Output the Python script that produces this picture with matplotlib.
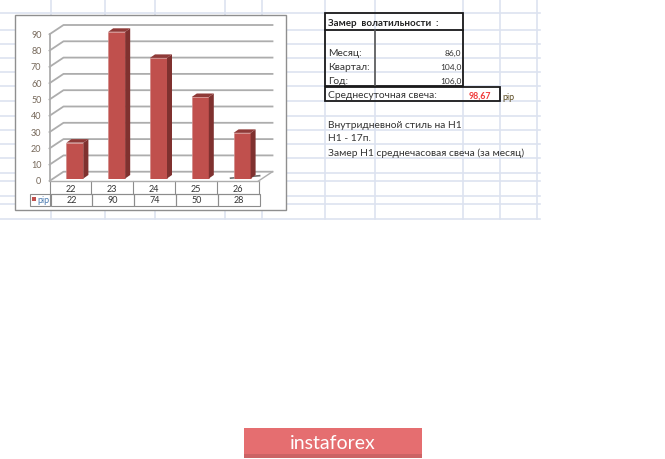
import matplotlib
matplotlib.use('Agg')
import matplotlib.pyplot as plt
from matplotlib.patches import Rectangle, Polygon

W, H = 665, 460
categories = ['22', '23', '24', '25', '26']
values = [22, 90, 74, 50, 28]
yticks = list(range(0, 100, 10))
series_name = 'pip'
sheet_rows = [('Месяц:', '86,0'), ('Квартал:', '104,0'), ('Год:', '106,0')]
summary_label = 'Среднесуточная свеча:'
summary_value = '98,67'
notes = ['Внутридневной стиль на Н1', 'Н1 - 17п.', 'Замер Н1 среднечасовая свеча (за месяц)']
sheet_title = 'Замер  волатильности  :'
grid_x = [51, 105, 155, 225, 262, 325, 375, 463, 500, 537]
grid_y = [14, 31, 45, 59, 73, 87, 102, 117, 131, 145, 159, 174, 182, 197, 205, 220]

plt.rcParams['font.family'] = ['Lato', 'DejaVu Sans']
fig = plt.figure(figsize=(W / 100, H / 100), dpi=100)
bg = fig.add_axes([0, 0, 1, 1])
bg.set_xlim(0, W); bg.set_ylim(H, 0); bg.axis('off')

# spreadsheet grid
grid_c = '#dde3f0'
for x in grid_x:
    bg.plot([x, x], [0, 220], color=grid_c, lw=1.2, zorder=1)
for y in grid_y:
    bg.plot([0, 540], [y, y], color=grid_c, lw=1.2, zorder=1)
bg.add_patch(Rectangle((14.5, 16), 271, 195, fc='white', ec='#8f8f8f', lw=1, zorder=2))

# chart axes: front plane
L, R, BASE, PX = 49.5, 258.5, 179.5, 1.63
ymax = 100
top = BASE - ymax * PX
ax = fig.add_axes([L / W, 1 - BASE / H, (R - L) / W, (BASE - top) / H])
ax.set_xlim(-0.5, 4.5); ax.set_ylim(0, ymax); ax.axis('off'); ax.patch.set_alpha(0)
xu = 5 / (R - L)          # x data units per px
yu = 1 / PX               # y data units per px
dbar_x, dbar_y = 5 * xu, 3.5 * yu
wall_x, wall_y = 14 * xu, 6.8 * yu
y_front = -2.5 * yu
bar_shift = 4.5 * xu

# walls and gridlines
wc = '#adadad'
xl, xr = -0.5, 4.5
for v in yticks:
    ax.plot([xl, xl + wall_x, xr + wall_x], [v + y_front, v + wall_y, v + wall_y],
            color=wc, lw=1.3, clip_on=False, zorder=1)
ax.plot([xr, xr + wall_x], [y_front, wall_y], color=wc, lw=1, clip_on=False, zorder=1)
ax.plot([xl, xr], [y_front, y_front], color=wc, lw=1, clip_on=False, zorder=1)
ax.plot([xl, xl], [y_front, 90 + y_front], color=wc, lw=1.3, clip_on=False, zorder=1)
for v in yticks:
    ax.text(xl - 8 * xu, v + y_front, str(v), ha='right', va='center', fontsize=6.5,
            color='#76685a', clip_on=False)

# bars
bw = 17 * xu
xs = [i + bar_shift for i in range(len(values))]
ax.bar(xs, values, width=bw, color='#c0504d', edgecolor='#d28a88', lw=0.5, zorder=3)
for x, v in zip(xs, values):
    r = x + bw / 2
    ax.add_patch(Polygon([(r, 0), (r + dbar_x, dbar_y), (r + dbar_x, v + dbar_y), (r, v)],
                         fc='#7f312f', ec='none', zorder=3, clip_on=False))
    ax.add_patch(Polygon([(r - bw, v), (r - bw + dbar_x, v + dbar_y), (r + dbar_x, v + dbar_y), (r, v)],
                         fc='#8f3a38', ec='none', zorder=3, clip_on=False))
# dark smudge by the last bar
ax.plot([xs[-1] - bw / 2 - 3 * xu, xs[-1] + bw / 2 + 9 * xu], [dbar_y * 0.1, dbar_y * 0.8],
        color='#333333', lw=1.2, zorder=2, clip_on=False, alpha=.7)

# data table
tc = '#8c8c8c'
cell = (R - L) / len(categories)
bg.plot([L, L], [182, 194.5], color=tc, lw=.8, zorder=3)
bg.plot([L, R], [194.5, 194.5], color=tc, lw=.8, zorder=3)
for i, (c, v) in enumerate(zip(categories, values)):
    x0 = L + i * cell
    bg.plot([x0 + cell, x0 + cell], [182, 194.5], color=tc, lw=.8, zorder=3)
    bg.add_patch(Rectangle((x0 + 1, 195), cell, 11.5, fc='none', ec=tc, lw=.8, zorder=3))
    bg.text(x0 + cell / 2, 190, c, ha='center', va='center', fontsize=6.5, color='#333333', zorder=4)
    bg.text(x0 + cell / 2 + 1, 200.5, str(v), ha='center', va='center', fontsize=6.5, color='#333333', zorder=4)
bg.add_patch(Rectangle((29.5, 195), 20.5, 11.5, fc='none', ec=tc, lw=.8, zorder=3))
bg.add_patch(Rectangle((32, 198), 4, 4, fc='#c0504d', ec='none', zorder=4))
bg.text(37.5, 200.5, series_name, ha='left', va='center', fontsize=6.5, color='#4a7ab0', zorder=4)

# sheet table
blk = '#1a1a1a'
bg.add_patch(Rectangle((325, 14), 138, 73, fc='none', ec=blk, lw=1.3, zorder=3))
bg.plot([325, 463], [31, 31], color=blk, lw=1.3, zorder=3)
bg.plot([375, 375], [31, 87], color='#555555', lw=1.2, zorder=3)
bg.add_patch(Rectangle((325, 87.5), 174.5, 14.5, fc='none', ec=blk, lw=1.3, zorder=3))
bg.text(328, 24, sheet_title, ha='left', va='center', fontsize=7.0, fontweight='bold', color='#222222', zorder=4)
for (name, val), y in zip(sheet_rows, [53, 67, 81]):
    bg.text(328, y, name, ha='left', va='center', fontsize=7.4, color='#333333', zorder=4)
    bg.text(461.5, y + .5, val, ha='right', va='center', fontsize=6.0, color='#333333', zorder=4)
bg.text(328, 96, summary_label, ha='left', va='center', fontsize=7.4, color='#333333', zorder=4)
bg.text(491, 96.5, summary_value, ha='right', va='center', fontsize=6.3, fontweight='bold', color='#f03a3a', zorder=4)
bg.text(502, 97, series_name, ha='left', va='center', fontsize=6.5, color='#5a4a20', zorder=4)
for t, y in zip(notes, [125, 139, 153]):
    bg.text(328, y, t, ha='left', va='center', fontsize=7.35, color='#333333', zorder=4)

# banner
bg.add_patch(Rectangle((244, 429), 178, 30, fc='#e56e70', ec='none', zorder=3))
bg.add_patch(Rectangle((244, 455), 178, 4, fc='#cc6365', ec='none', zorder=3))
bg.text(333, 443.5, 'instaforex', ha='center', va='center', fontsize=14, color='white',
        family=['Lato', 'DejaVu Sans'], zorder=4)

fig.savefig('out.png', dpi=100)
